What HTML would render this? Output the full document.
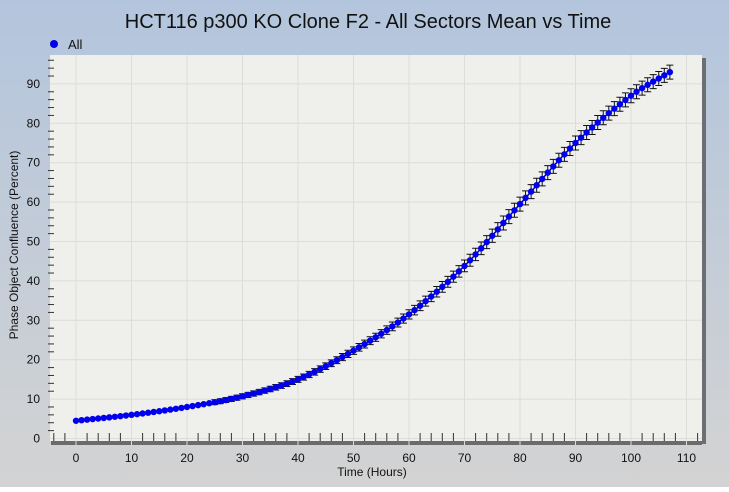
<!DOCTYPE html>
<html><head><meta charset="utf-8"><style>
body{margin:0;width:729px;height:487px;overflow:hidden;font-family:"Liberation Sans",sans-serif;}
</style></head><body>
<svg id="s" width="729" height="487" xmlns="http://www.w3.org/2000/svg" font-family="Liberation Sans, sans-serif">
<defs><linearGradient id="bg" x1="0" y1="0" x2="0" y2="1">
<stop offset="0" stop-color="#b3c5dd"/><stop offset="1" stop-color="#d3d3d3"/></linearGradient></defs>
<rect width="729" height="487" fill="url(#bg)"/>
<text x="368" y="28" font-size="20" text-anchor="middle" fill="#111">HCT116 p300 KO Clone F2 - All Sectors Mean vs Time</text>
<circle cx="54" cy="44" r="4" fill="#0000ee"/>
<text x="68" y="49" font-size="13" fill="#111">All</text>
<rect x="702" y="58" width="4" height="386" fill="#6b6e73"/>
<rect x="50" y="55" width="652" height="386" fill="#efefeb"/>
<g id="g"></g>
</svg>
<script>
const g=document.getElementById('g');let h='';
const X=t=>76+5.55*t, Y=v=>438.5-3.94*v;
for(let t=0;t<=110;t+=10){h+=`<line x1="${X(t)}" y1="55" x2="${X(t)}" y2="441" stroke="#dcdcd8"/>`;
h+=`<text x="${X(t)}" y="462" font-size="12" text-anchor="middle" fill="#111">${t}</text>`;}
for(let v=0;v<=90;v+=10){h+=`<line x1="50" y1="${Y(v)}" x2="702" y2="${Y(v)}" stroke="#dcdcd8"/>`;
h+=`<text x="40" y="${Y(v)+4}" font-size="12" text-anchor="end" fill="#111">${v}</text>`;}
for(let v=0;v<=96;v+=2){if(v%10)h+=`<line x1="48" y1="${Y(v)}" x2="54" y2="${Y(v)}" stroke="#333"/>`;}
for(let t=-4;t<=112;t+=2){if(t%10)h+=`<line x1="${X(t)}" y1="433" x2="${X(t)}" y2="441" stroke="#333"/>`;}
h+=`<rect x="51" y="441" width="651" height="4" fill="#6b6b6b"/>`;
for(let t=0;t<=110;t+=10)h+=`<line x1="${X(t)}" y1="441" x2="${X(t)}" y2="445" stroke="#ddd"/>`;
h+=`<text x="372" y="476" font-size="12" text-anchor="middle" fill="#111">Time (Hours)</text>`;
h+=`<text transform="translate(18,245) rotate(-90)" font-size="12" text-anchor="middle" fill="#111">Phase Object Confluence (Percent)</text>`;
const kp=[[0,4.5],[10,6],[20,8],[30,10.7],[40,15],[50,22.3],[60,31.5],[70,43.8],[80,59.5],[90,75],[100,87],[107,93]];
function f(t){for(let i=0;i<kp.length-1;i++){const[a,va]=kp[i],[b,vb]=kp[i+1];if(t<=b){const u=(t-a)/(b-a);
const m0=i>0?(vb-kp[i-1][1])/(b-kp[i-1][0]):(vb-va)/(b-a);const m1=i<kp.length-2?(kp[i+2][1]-va)/(kp[i+2][0]-a):(vb-va)/(b-a);
const d=b-a,u2=u*u,u3=u2*u;return (2*u3-3*u2+1)*va+(u3-2*u2+u)*d*m0+(-2*u3+3*u2)*vb+(u3-u2)*d*m1;}}return 93;}
let pts=[];for(let t=0;t<=107;t++)pts.push(`${X(t)},${Y(f(t))}`);
let eb='',dots='';
for(let t=0;t<=107;t++){const v=f(t),x=X(t),y=Y(v);const e=v>9?Math.min(7,1.5+v*0.1):0;
if(e>1.5)eb+=`<path d="M${x},${y-e}V${y+e}M${x-3.5},${y-e}h7M${x-3.5},${y+e}h7" stroke="#111" fill="none"/>`;
dots+=`<circle cx="${x}" cy="${y}" r="3.2" fill="#0000ee"/>`;}
h+=eb+`<polyline points="${pts.join(' ')}" fill="none" stroke="#00008b" stroke-width="1.5"/>`+dots;
g.innerHTML=h;
</script>
</body></html>
